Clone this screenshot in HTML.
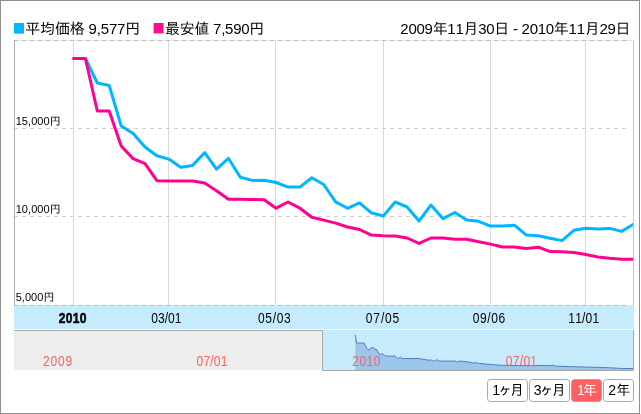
<!DOCTYPE html>
<html><head><meta charset="utf-8"><style>
html,body{margin:0;padding:0;background:#fff;}
body{width:641px;height:414px;overflow:hidden;position:relative;}
svg{position:absolute;left:0;top:0;will-change:transform;}
.t{font-family:"Liberation Sans","IPAGothic",sans-serif;white-space:pre;}
</style></head><body>
<svg width="641" height="414" viewBox="0 0 641 414">
<g id="gfx">
<rect x="0.5" y="0.5" width="639" height="413" fill="#fff" stroke="#8f8f8f"/>
<rect x="14" y="23" width="10" height="10.6" fill="#00b6ff"/>
<rect x="153.6" y="23" width="9.9" height="10.4" fill="#ff0a8c"/>
<g stroke="#d8d8d8" stroke-width="1" shape-rendering="crispEdges">
<line x1="73.5" y1="41" x2="73.5" y2="305"/>
<line x1="168.5" y1="41" x2="168.5" y2="305"/>
<line x1="275.5" y1="41" x2="275.5" y2="305"/>
<line x1="383.5" y1="41" x2="383.5" y2="305"/>
<line x1="490.5" y1="41" x2="490.5" y2="305"/>
<line x1="585.5" y1="41" x2="585.5" y2="305"/>
</g>
<g stroke="#d0d0d0" stroke-width="1" stroke-dasharray="4,4" shape-rendering="crispEdges">
<line x1="14" y1="128.5" x2="629" y2="128.5"/>
<line x1="14" y1="216.5" x2="629" y2="216.5"/>
</g>
<g shape-rendering="crispEdges">
<line x1="14" y1="40.5" x2="634" y2="40.5" stroke="#e6e6e6"/>
<line x1="14" y1="40.5" x2="629" y2="40.5" stroke="#bcbcbc" stroke-dasharray="4,4"/>
<line x1="14" y1="305.5" x2="634" y2="305.5" stroke="#e6e6e6"/>
<line x1="14" y1="305.5" x2="629" y2="305.5" stroke="#bcbcbc" stroke-dasharray="4,4"/>
<line x1="14.5" y1="40" x2="14.5" y2="306" stroke="#b0b0b0"/>
<line x1="633.5" y1="40" x2="633.5" y2="306" stroke="#c8c8c8"/>
</g>
<defs><clipPath id="pc"><rect x="14" y="30" width="619" height="276"/></clipPath></defs>
<g clip-path="url(#pc)">
<polyline points="73.5,58.5 85.4,58.5 97.3,83.0 109.2,85.5 121.2,126.0 133.1,133.4 145.0,147.0 156.9,155.7 168.8,159.1 180.7,167.3 192.6,165.4 204.6,152.7 216.5,169.1 228.4,158.3 240.3,177.2 252.2,180.4 264.1,180.3 276.1,182.5 288.0,187.1 299.9,187.1 311.8,177.8 323.7,184.5 335.6,201.9 347.5,208.3 359.5,202.9 371.4,212.9 383.3,216.0 395.2,202.0 407.1,207.0 419.0,221.0 430.9,205.1 442.9,218.6 454.8,212.5 466.7,220.0 478.6,221.3 490.5,226.1 502.4,226.1 514.4,225.2 526.3,235.1 538.2,235.7 550.1,238.3 562.0,240.6 573.9,230.3 585.8,228.3 597.8,229.0 609.7,228.4 621.6,231.4 633.5,224.2" fill="none" stroke="#00b6ff" stroke-width="3" stroke-linejoin="round" stroke-linecap="butt"/>
<polyline points="73.5,58.5 85.4,58.5 97.3,111.0 109.2,111.0 121.2,146.0 133.1,158.6 145.0,163.7 156.9,180.7 168.8,181.0 180.7,181.0 192.6,181.1 204.6,183.1 216.5,190.8 228.4,199.2 240.3,199.2 252.2,199.5 264.1,199.8 276.1,208.2 288.0,202.0 299.9,208.2 311.8,217.2 323.7,220.1 335.6,223.1 347.5,227.0 359.5,229.5 371.4,235.1 383.3,235.7 395.2,236.0 407.1,238.0 419.0,243.4 430.9,238.0 442.9,238.0 454.8,239.2 466.7,239.3 478.6,241.8 490.5,244.1 502.4,247.0 514.4,247.0 526.3,248.4 538.2,247.2 550.1,251.6 562.0,251.8 573.9,252.6 585.8,254.5 597.8,257.0 609.7,258.3 621.6,259.2 633.5,259.2" fill="none" stroke="#ff0090" stroke-width="3" stroke-linejoin="round" stroke-linecap="round"/>
</g>
<rect x="14" y="306" width="620" height="23" fill="#c6ebfc"/>
<rect x="14" y="330" width="620" height="40" fill="#c6ebfc"/>
<path d="M355.3,370 L355.3,334.9 L356.5,343.1 L364.3,343.1 L365.5,346 L368,349.7 L369.7,349.7 L371.7,347.4 L373.5,347.7 L375,349.3 L377,349.7 L379.1,354.2 L380.3,354.5 L382.4,353.8 L385.7,356.1 L393,356.1 L394.7,355.9 L397.2,358.3 L398.4,358.3 L400.3,357 L401.9,358.5 L419.8,358.5 L421.4,359.1 L425.3,359.5 L427.3,360.1 L431.5,360.1 L433.5,361.3 L436.2,359.9 L437.8,360.1 L439,361.1 L448,361.1 L455.1,361 L457.2,362.1 L459.8,361 L466.8,361.7 L473.9,363.2 L476.2,362.6 L477.8,363.2 L487.1,364.2 L501.2,365.3 L507.4,365.4 L527.7,365.7 L545,365.4 L550.6,365.7 L552.9,365.0 L555.3,366.1 L569.3,366.6 L591.2,367.2 L608.3,367.7 L622.4,368.5 L633,368.5 L633,370 Z" fill="#9cc5ea"/>
<polyline points="355.3,334.9 356.5,343.1 364.3,343.1 365.5,346 368,349.7 369.7,349.7 371.7,347.4 373.5,347.7 375,349.3 377,349.7 379.1,354.2 380.3,354.5 382.4,353.8 385.7,356.1 393,356.1 394.7,355.9 397.2,358.3 398.4,358.3 400.3,357 401.9,358.5 419.8,358.5 421.4,359.1 425.3,359.5 427.3,360.1 431.5,360.1 433.5,361.3 436.2,359.9 437.8,360.1 439,361.1 448,361.1 455.1,361 457.2,362.1 459.8,361 466.8,361.7 473.9,363.2 476.2,362.6 477.8,363.2 487.1,364.2 501.2,365.3 507.4,365.4 527.7,365.7 545,365.4 550.6,365.7 552.9,365.0 555.3,366.1 569.3,366.6 591.2,367.2 608.3,367.7 622.4,368.5 633,368.5" fill="none" stroke="#4f7fc0" stroke-width="1"/>
<rect x="14" y="330" width="307" height="40" fill="#ededed"/><rect x="321" y="330" width="1" height="40" fill="#f1f1f1"/>
<path d="M14,330.5 H322.5 V370.5 H633.5 V330" fill="none" stroke="#a6a6a6" stroke-width="1"/>
<g stroke="#a8a8a8" stroke-width="1">
<rect x="487.5" y="379.5" width="40" height="22" rx="3" fill="#fff"/>
<rect x="529.5" y="379.5" width="40" height="22" rx="3" fill="#fff"/>
<rect x="571.5" y="379.5" width="30" height="22" rx="3" fill="#ff5f5f"/>
<rect x="603.5" y="379.5" width="30" height="22" rx="3" fill="#fff"/>
</g>
</g>
<text class="t" id="legend1" x="25.20 40.04 54.88 69.72 84.56 88.57 96.75 100.76 108.94 117.12 125.30" y="34" font-size="15" fill="#000">平均価格 9,577円</text>
<text class="t" id="legend2" x="165.00 179.73 194.47 209.20 213.11 221.18 225.08 233.16 241.23 249.31" y="34" font-size="15" fill="#000">最安値 7,590円</text>
<text class="t" id="date" x="400.36 408.43 416.49 424.56 432.63 447.36 455.42 463.49 478.22 486.28 494.35 509.08 512.97 517.70 521.59 529.66 537.73 545.79 553.86 568.59 576.66 584.72 599.45 607.52 615.58" y="34" font-size="15" fill="#000">2009年11月30日 - 2010年11月29日</text>
<text class="t" id="y15" x="15.64 21.84 28.03 31.17 37.37 43.56 49.76" y="125" font-size="11" fill="#000">15,000円</text>
<text class="t" id="y10" x="15.64 21.84 28.03 31.17 37.37 43.56 49.76" y="213" font-size="11" fill="#000">10,000円</text>
<text class="t" id="y5" x="15.64 21.82 24.94 31.12 37.30 43.48" y="301" font-size="11" fill="#000">5,000円</text>
<text class="t" id="x2010" x="68.37 76.47 84.56 92.65" y="323" font-size="14" fill="#000" font-weight="bold" stroke="#000" stroke-width="0.5" transform="scale(0.86,1)">2010</text>
<text class="t" id="x0301" x="176.00 183.78 191.57 195.46 203.24" y="323" font-size="14" fill="#000" transform="scale(0.86,1)">03/01</text>
<text class="t" id="x0503" x="299.98 308.55 317.13 321.81 330.38" y="323" font-size="14" fill="#000" transform="scale(0.86,1)">05/03</text>
<text class="t" id="x0705" x="425.37 434.13 442.89 447.76 456.52" y="323" font-size="14" fill="#000" transform="scale(0.86,1)">07/05</text>
<text class="t" id="x0906" x="549.58 558.11 566.64 571.27 579.80" y="323" font-size="14" fill="#000" transform="scale(0.86,1)">09/06</text>
<text class="t" id="x1101" x="660.79 668.81 676.82 680.95 688.96" y="323" font-size="14" fill="#000" transform="scale(0.86,1)">11/01</text>
<text class="t" id="n2009" x="50.00 58.71 67.43 76.14" y="366" font-size="14" fill="#ff5f5f" transform="scale(0.86,1)">2009</text>
<text class="t" id="n0701a" x="228.53 236.55 244.57 248.69 256.71" y="366" font-size="14" fill="#ff5f5f" transform="scale(0.86,1)">07/01</text>
<text class="t" id="n2010" x="409.72 418.00 426.28 434.56" y="366" font-size="14" fill="#ff5f5f" transform="scale(0.86,1)">2010</text>
<text class="t" id="n0701b" x="588.16 596.27 604.38 608.60 616.71" y="366" font-size="14" fill="#ff5f5f" transform="scale(0.86,1)">07/01</text>
<text class="t" id="b1m" x="492.19 497.97 509.97" y="395" font-size="14" fill="#000">1ヶ月</text>
<text class="t" id="b3m" x="533.64 539.58 551.74" y="395" font-size="14" fill="#000">3ヶ月</text>
<text class="t" id="b1y" x="577.00 583.02" y="395" font-size="14" fill="#fff">1年</text>
<text class="t" id="b2y" x="608.36 616.14" y="395" font-size="14" fill="#000">2年</text>
</svg>
</body></html>
